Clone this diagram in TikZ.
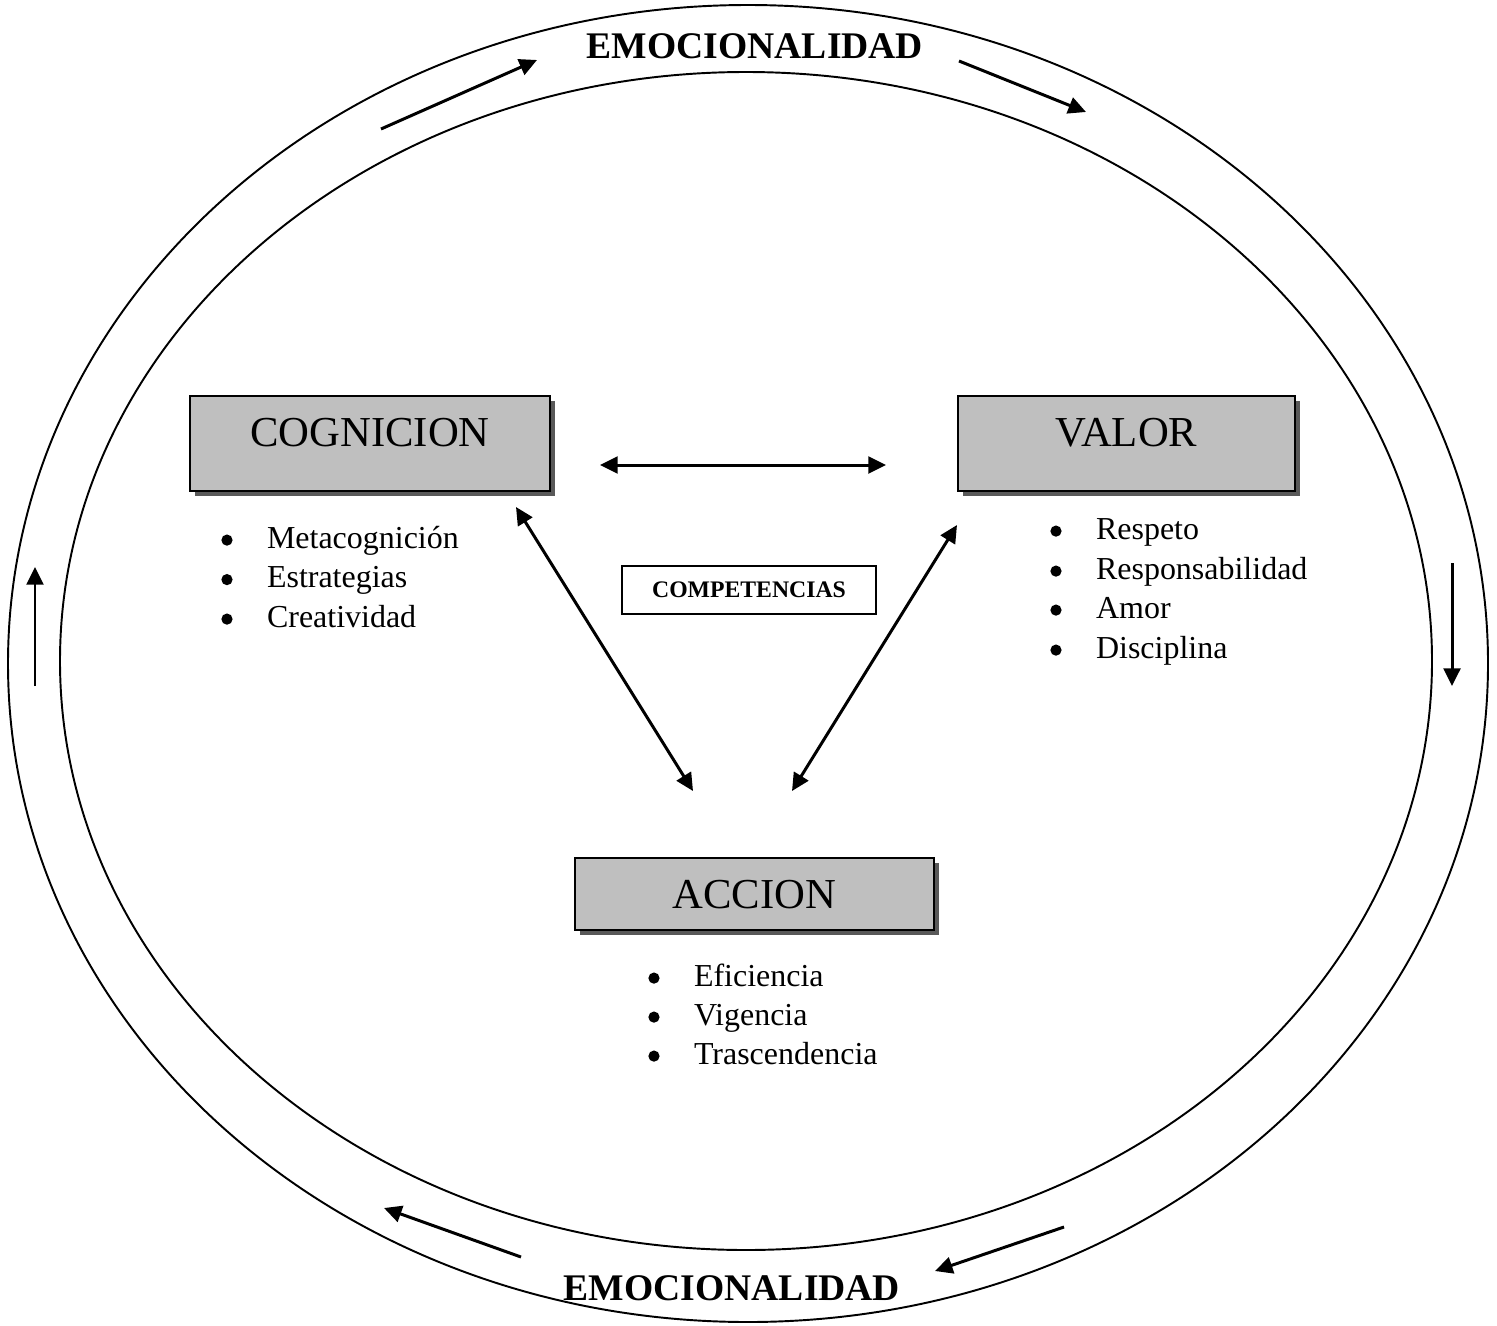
\documentclass[tikz,border=0pt]{standalone}
\usepackage{fontspec}
\setmainfont{Liberation Serif}
\usetikzlibrary{arrows.meta,shadows}
\newcommand\itm[1]{\makebox[26pt][l]{\tikz[baseline=-4.5pt]\fill (0,0) circle (3.2pt);}#1}
\begin{document}
\begin{tikzpicture}[x=0.02cm,y=-0.02cm,
 box/.style={draw=black, line width=1.1pt, fill=black!25,
   drop shadow={shadow xshift=2.8pt, shadow yshift=-2.8pt, fill=black!65, opacity=1},
   font=\fontsize{24.3}{28}\selectfont, inner sep=0pt},
 itemtxt/.style={anchor=base west, inner sep=0pt, font=\fontsize{18.2}{21}\selectfont},
 emo/.style={font=\bfseries\fontsize{21.4}{25}\selectfont, inner sep=0pt, text height=14.2pt, text depth=0pt},
 arr/.style={line width=1.7pt, -{Triangle[length=10pt,width=9.5pt]}},
 darr/.style={line width=1.7pt, {Triangle[length=10pt,width=9.5pt]}-{Triangle[length=10pt,width=9.5pt]}},
 ring/.style={line width=1.1pt}]
\useasboundingbox (0,0) rectangle (1497,1325);
% rings
\draw[ring] (748,663.5) ellipse [x radius=740, y radius=658.5];
\draw[ring] (746,661) ellipse [x radius=686, y radius=589];
% ring labels
\node[emo] (emotop) at (755,46) {EMOCIONALIDAD};
\node[emo] (emobot) at (732,1288) {EMOCIONALIDAD};
% boxes
\node[box, minimum width=7.2cm, minimum height=1.9cm, text height=16.5pt, text depth=12.9pt] (cog) at (370,443.5) {COGNICION};
\node[box, minimum width=6.74cm, minimum height=1.9cm, text height=16.5pt, text depth=12.9pt] (val) at (1126.5,443.5) {VALOR};
\node[box, minimum width=7.18cm, minimum height=1.44cm, text height=16.5pt, text depth=0pt] (acc) at (754.5,894) {ACCION};
\node[draw=black, line width=0.8pt, minimum width=5.08cm, minimum height=0.96cm, inner sep=0pt,
  font=\bfseries\fontsize{13.5}{15}\selectfont] (comp) at (749,590) {COMPETENCIAS};
% lists
\node[itemtxt] (c1) at (221,548) {\itm{Metacognición}};
\node[itemtxt] (c2) at (221,587.5) {\itm{Estrategias}};
\node[itemtxt] (c3) at (221,627) {\itm{Creatividad}};
\node[itemtxt] (v1) at (1050,539) {\itm{Respeto}};
\node[itemtxt] (v2) at (1050,579) {\itm{Responsabilidad}};
\node[itemtxt] (v3) at (1050,618) {\itm{Amor}};
\node[itemtxt] (v4) at (1050,658) {\itm{Disciplina}};
\node[itemtxt] (a1) at (648,986) {\itm{Eficiencia}};
\node[itemtxt] (a2) at (648,1025) {\itm{Vigencia}};
\node[itemtxt] (a3) at (648,1064) {\itm{Trascendencia}};
% inner arrow endpoints
\coordinate (h1) at (600,465);
\coordinate (h2) at (886,465);
\coordinate (ca1) at (516,507);
\coordinate (ca2) at (693,791);
\coordinate (va1) at (957,525);
\coordinate (va2) at (792,791);
\draw[darr] (h1) -- (h2);
\draw[darr] (ca1) -- (ca2);
\draw[darr] (va1) -- (va2);
% ring arrows
\coordinate (t1a) at (381,129); \coordinate (t1b) at (537,60);
\coordinate (t2a) at (959,61);  \coordinate (t2b) at (1086,112);
\coordinate (ra) at (1452,563); \coordinate (rb) at (1452,686);
\coordinate (bra) at (1064,1227); \coordinate (brb) at (935,1271);
\coordinate (bla) at (521,1257); \coordinate (blb) at (384,1208);
\coordinate (la) at (35,686); \coordinate (lb) at (35,567);
\draw[arr] (t1a) -- (t1b);
\draw[arr] (t2a) -- (t2b);
\draw[arr] (ra) -- (rb);
\draw[arr] (bra) -- (brb);
\draw[arr] (bla) -- (blb);
\draw[arr] (la) -- (lb);
\end{tikzpicture}
\end{document}
